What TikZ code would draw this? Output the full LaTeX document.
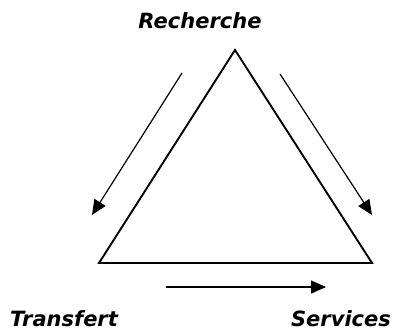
\documentclass[tikz,border=0pt]{standalone}
\usepackage{fontspec}
\setmainfont{DejaVu Sans}
\usetikzlibrary{arrows.meta}

\begin{document}
\begin{tikzpicture}[x=1pt,y=-1pt]
\tikzset{
	pole label/.style = {anchor = base, inner sep = 0, font = \bfseries\itshape\fontsize{21}{24}\selectfont},
	side/.style = {line width = 1.9pt, line join = miter},
	flow/.style = {line width = 1.2pt, -{Triangle[length = 15pt, width = 13pt]}},
}
\useasboundingbox (0,0) rectangle (395,332);

\coordinate (top) at (235,50);
\coordinate (left) at (99,263);
\coordinate (right) at (372,263);

\node(rech)[pole label] at (200,28) {Recherche};
\node(trans)[pole label] at (64,326) {Transfert};
\node(serv)[pole label] at (341,326) {Services};

\draw [side] (top) -- (left) -- (right) -- cycle;

\coordinate (a1) at (182,73);
\coordinate (a2) at (92,215);
\coordinate (b1) at (280,74);
\coordinate (b2) at (372,215);
\coordinate (c1) at (166,287);
\coordinate (c2) at (326,287);

\draw [flow] (a1) -- (a2);
\draw [flow] (b1) -- (b2);
\draw [flow] (c1) -- (c2);

\end{tikzpicture}
\end{document}
